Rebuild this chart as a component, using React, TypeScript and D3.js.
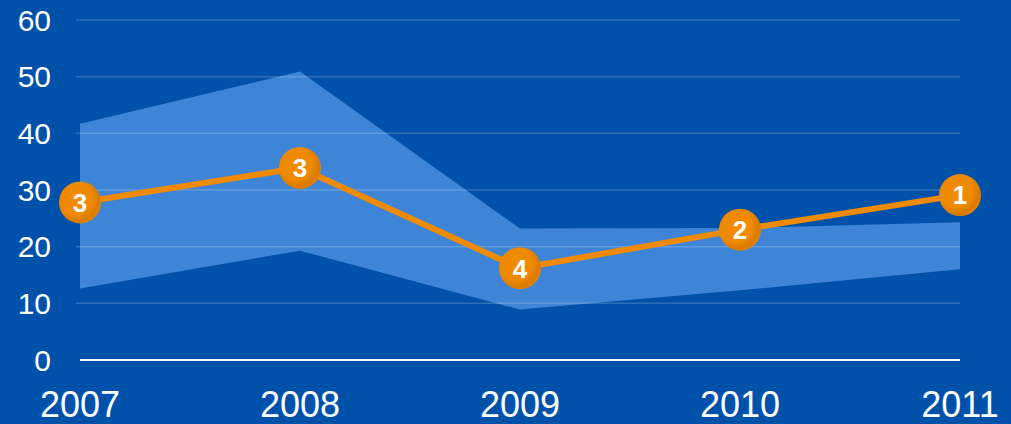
import React from "react";
import * as d3 from "d3";

const years = ["2007", "2008", "2009", "2010", "2011"];
const values = [27.8, 33.9, 16.2, 23, 29.1];
const ranks = ["3", "3", "4", "2", "1"];
const bandHigh = [41.7, 50.9, 23.2, 23.3, 24.3];
const bandLow = [12.6, 19.3, 8.9, 12.3, 16];
const yTicks = [0, 10, 20, 30, 40, 50, 60];

const W = 1011;
const H = 424;

export default function App() {
  const x = d3.scalePoint<string>().domain(years).range([80, 960]);
  const y = d3.scaleLinear().domain([0, 60]).range([360, 20]);

  const area = d3
    .area<number>()
    .x((_, i) => x(years[i]) as number)
    .y0((_, i) => y(bandLow[i]))
    .y1((d) => y(d));
  const line = d3
    .line<number>()
    .x((_, i) => x(years[i]) as number)
    .y((d) => y(d));

  return (
    <svg
      width={W}
      height={H}
      style={{ position: "absolute", left: 0, top: 0, display: "block" }}
      fontFamily="'Liberation Sans', Arial, sans-serif"
    >
      <defs>
        <radialGradient id="dot" cx="0.4" cy="0.4" r="0.65">
          <stop offset="0" stopColor="#F28C00" />
          <stop offset="0.6" stopColor="#EE8900" />
          <stop offset="0.85" stopColor="#D97A00" />
          <stop offset="1" stopColor="#E88500" />
        </radialGradient>
      </defs>
      <rect width={W} height={H} fill="#0051A9" />
      <path d={area(bandHigh) || ""} fill="#3E85D7" />
      {yTicks
        .filter((t) => t > 0)
        .map((t) => (
          <line
            key={t}
            x1={76}
            x2={960}
            y1={y(t)}
            y2={y(t)}
            stroke="#ffffff"
            strokeOpacity={0.18}
            strokeWidth={1.5}
          />
        ))}
      <line x1={80} x2={960} y1={y(0)} y2={y(0)} stroke="#ffffff" strokeWidth={2} />
      {yTicks.map((t) => (
        <text
          key={t}
          x={51}
          y={y(t)}
          dy="0.36em"
          textAnchor="end"
          fill="#ffffff"
          fontSize={30}
        >
          {t}
        </text>
      ))}
      {years.map((yr) => (
        <text
          key={yr}
          x={x(yr) as number}
          y={417}
          textAnchor="middle"
          fill="#ffffff"
          fontSize={36}
        >
          {yr}
        </text>
      ))}
      <path
        d={line(values) || ""}
        fill="none"
        stroke="#F08A00"
        strokeWidth={6}
        strokeLinejoin="round"
      />
      {values.map((v, i) => (
        <g key={i} transform={`translate(${x(years[i])},${y(v)})`}>
          <circle r={21} fill="url(#dot)" />
          <text
            y={0}
            dy="0.36em"
            textAnchor="middle"
            fill="#ffffff"
            fontSize={26}
            fontWeight="bold"
          >
            {ranks[i]}
          </text>
        </g>
      ))}
    </svg>
  );
}
